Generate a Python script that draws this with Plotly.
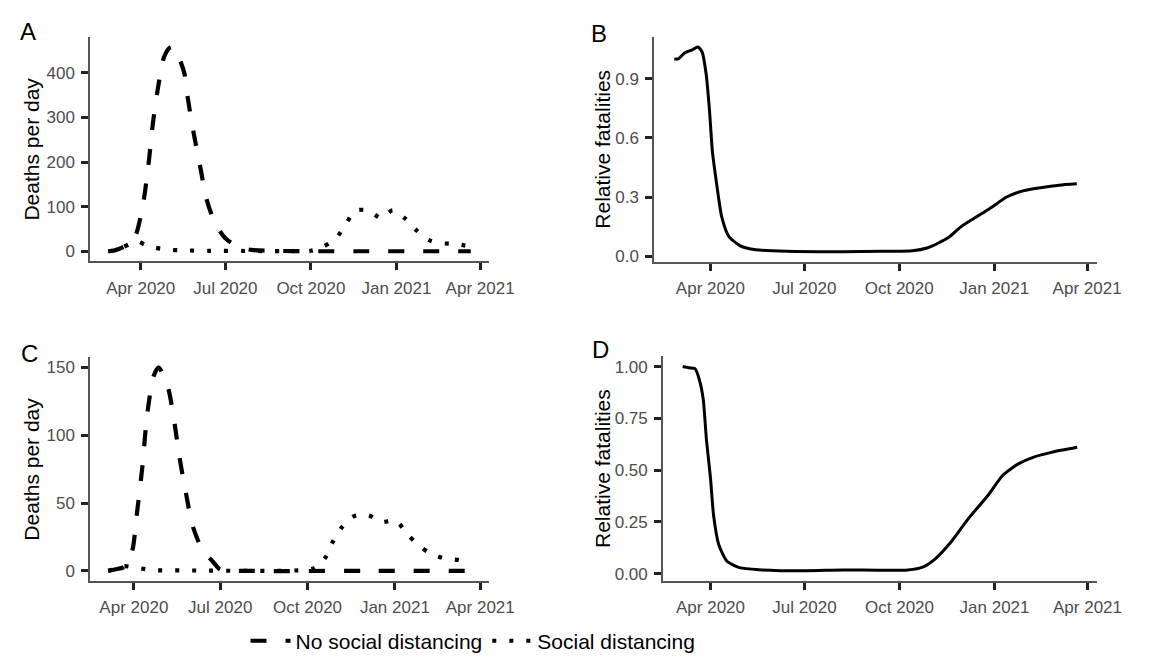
import plotly.graph_objects as go
import pandas as pd

# ---------------- data ----------------
tick_vals = ["2020-04-01", "2020-07-01", "2020-10-01", "2021-01-01", "2021-04-01"]
tick_text = ["Apr 2020", "Jul 2020", "Oct 2020", "Jan 2021", "Apr 2021"]

# Panel A: deaths per day
a_nosd_dates = ["2020-02-26", "2020-03-04", "2020-03-13", "2020-03-20", "2020-03-26", "2020-04-03",
                "2020-04-09", "2020-04-14", "2020-04-19", "2020-04-26", "2020-05-02", "2020-05-06",
                "2020-05-12", "2020-05-18", "2020-05-22", "2020-05-28", "2020-06-04", "2020-06-11",
                "2020-06-20", "2020-07-01", "2020-07-15", "2020-07-29", "2020-08-19", "2020-09-30",
                "2020-12-01", "2021-03-22"]
a_nosd_vals = [0, 2, 9, 18, 33, 100, 189, 286, 360, 435, 456, 458, 435, 398, 338, 264, 189, 115,
               63, 29, 10, 3, 1, 0, 0, 0]

a_sd_dates = ["2020-02-26", "2020-03-04", "2020-03-13", "2020-03-22", "2020-03-29", "2020-04-05",
              "2020-04-12", "2020-04-28", "2020-05-16", "2020-06-15", "2020-08-01", "2020-09-15",
              "2020-10-01", "2020-10-14", "2020-10-28", "2020-11-07", "2020-11-18", "2020-12-02",
              "2020-12-16", "2020-12-28", "2021-01-10", "2021-01-22", "2021-02-05", "2021-02-19",
              "2021-03-07", "2021-03-22"]
a_sd_vals = [0, 2, 9, 18, 22, 15, 10, 4, 2, 1, 0.5, 0.5, 1, 10, 29, 59, 91, 91, 74, 92, 74, 48,
             25, 18, 16, 10]

# Panel B: relative fatalities
b_dates = ["2020-02-26", "2020-03-01", "2020-03-07", "2020-03-14", "2020-03-20", "2020-03-24",
           "2020-03-28", "2020-03-31", "2020-04-03", "2020-04-07", "2020-04-12", "2020-04-19",
           "2020-04-30", "2020-05-15", "2020-06-14", "2020-08-08", "2020-09-14", "2020-10-14",
           "2020-10-28", "2020-11-08", "2020-11-19", "2020-11-30", "2020-12-15", "2020-12-30",
           "2021-01-13", "2021-01-28", "2021-02-15", "2021-03-05", "2021-03-22"]
b_vals = [1.00, 1.00, 1.03, 1.045, 1.06, 1.035, 0.92, 0.75, 0.53, 0.37, 0.20, 0.10, 0.053, 0.033,
          0.025, 0.023, 0.025, 0.028, 0.042, 0.067, 0.10, 0.15, 0.20, 0.25, 0.30, 0.33, 0.347,
          0.36, 0.367]

# Panel C: deaths per day
c_nosd_dates = ["2020-03-05", "2020-03-12", "2020-03-22", "2020-03-30", "2020-04-04", "2020-04-10",
                "2020-04-15", "2020-04-22", "2020-04-27", "2020-05-07", "2020-05-14", "2020-05-19",
                "2020-05-26", "2020-06-02", "2020-06-12", "2020-06-23", "2020-07-01", "2020-08-01",
                "2020-12-01", "2021-03-22"]
c_nosd_vals = [0, 1, 3, 14, 41, 77, 115, 144, 150, 135, 108, 84, 57, 33, 16, 7, 1, 0, 0, 0]

c_sd_dates = ["2020-03-05", "2020-03-15", "2020-03-22", "2020-04-01", "2020-04-06", "2020-04-23",
              "2020-05-20", "2020-09-25", "2020-10-08", "2020-10-20", "2020-10-28", "2020-11-06",
              "2020-11-18", "2020-12-04", "2020-12-17", "2021-01-02", "2021-01-14", "2021-01-26",
              "2021-02-07", "2021-02-23", "2021-03-10", "2021-03-22"]
c_sd_vals = [0, 2, 3.5, 2.5, 2, 0.5, 0.3, 0.5, 2, 10, 22, 32, 40, 41, 36, 37, 27, 19, 13, 9, 8, 6]

# Panel D: relative fatalities
d_dates = ["2020-03-05", "2020-03-11", "2020-03-17", "2020-03-21", "2020-03-25", "2020-03-28",
           "2020-04-01", "2020-04-04", "2020-04-09", "2020-04-17", "2020-04-29", "2020-05-18",
           "2020-07-01", "2020-08-07", "2020-10-09", "2020-10-24", "2020-11-04", "2020-11-19",
           "2020-12-07", "2020-12-26", "2021-01-09", "2021-01-24", "2021-02-08", "2021-02-26",
           "2021-03-22"]
d_vals = [1.00, 0.994, 0.99, 0.94, 0.84, 0.65, 0.46, 0.28, 0.14, 0.06, 0.029, 0.019, 0.014, 0.018,
          0.018, 0.033, 0.069, 0.148, 0.268, 0.38, 0.475, 0.53, 0.563, 0.587, 0.61]

# ---------------- helpers ----------------
W, H = 1154, 657


def xr(dates):
    d = pd.to_datetime(dates)
    lo, hi = d.min(), d.max()
    pad = (hi - lo) * 0.05
    return [(lo - pad).strftime("%Y-%m-%d %H:%M"), (hi + pad).strftime("%Y-%m-%d %H:%M")]


def yr(*vals):
    allv = [v for vs in vals for v in vs]
    lo, hi = min(allv), max(allv)
    pad = (hi - lo) * 0.05
    return [lo - pad, hi + pad]


FONT = "Arial, Liberation Sans, sans-serif"
DASH = "16px,19px"
DOT = "4px,13px"

fig = go.Figure()
fig.add_trace(go.Scatter(x=a_nosd_dates, y=a_nosd_vals, mode="lines", name="No social distancing",
                         line=dict(color="black", width=4.2, dash=DASH, shape="spline", smoothing=0.8),
                         xaxis="x", yaxis="y", showlegend=True, legendrank=1))
fig.add_trace(go.Scatter(x=a_sd_dates, y=a_sd_vals, mode="lines", name="Social distancing",
                         line=dict(color="black", width=4.2, dash=DOT, shape="spline", smoothing=0.8),
                         xaxis="x", yaxis="y", showlegend=True, legendrank=2))
fig.add_trace(go.Scatter(x=b_dates, y=b_vals, mode="lines",
                         line=dict(color="black", width=3, shape="spline", smoothing=0.6),
                         xaxis="x2", yaxis="y2", showlegend=False))
fig.add_trace(go.Scatter(x=c_nosd_dates, y=c_nosd_vals, mode="lines",
                         line=dict(color="black", width=4.2, dash=DASH, shape="spline", smoothing=0.8),
                         xaxis="x3", yaxis="y3", showlegend=False))
fig.add_trace(go.Scatter(x=c_sd_dates, y=c_sd_vals, mode="lines",
                         line=dict(color="black", width=4.2, dash=DOT, shape="spline", smoothing=0.8),
                         xaxis="x3", yaxis="y3", showlegend=False))
fig.add_trace(go.Scatter(x=d_dates, y=d_vals, mode="lines",
                         line=dict(color="black", width=3, shape="spline", smoothing=0.6),
                         xaxis="x4", yaxis="y4", showlegend=False))


def px_dom(a, b):
    return [a / W, b / W]


def py_dom(top, bottom):
    return [1 - bottom / H, 1 - top / H]


axis_common = dict(showline=True, linecolor="#555555", linewidth=1.5, ticks="outside", ticklen=7,
                   tickwidth=2.5, tickcolor="#222222", showgrid=False, zeroline=False,
                   ticklabelstandoff=3,
                   tickfont=dict(family=FONT, size=17, color="#4D4D4D"), fixedrange=True)

xa = dict(axis_common, type="date", tickmode="array", tickvals=tick_vals, ticktext=tick_text)

fig.update_layout(
    width=W, height=H, margin=dict(l=0, r=0, t=0, b=0),
    paper_bgcolor="white", plot_bgcolor="white",
    xaxis=dict(xa, domain=px_dom(84, 492), range=xr(a_nosd_dates), anchor="y"),
    yaxis=dict(axis_common, domain=py_dom(29, 255), range=yr(a_nosd_vals, a_sd_vals),
               tickvals=[0, 100, 200, 300, 400], anchor="x"),
    xaxis2=dict(xa, domain=px_dom(661, 1114), range=xr(b_dates), anchor="y2"),
    yaxis2=dict(axis_common, domain=py_dom(29, 255.5), range=yr(b_vals),
                tickvals=[0, 0.3, 0.6, 0.9], ticktext=["0.0", "0.3", "0.6", "0.9"], anchor="x2"),
    xaxis3=dict(xa, domain=px_dom(84, 492), range=xr(c_nosd_dates), anchor="y3"),
    yaxis3=dict(axis_common, domain=py_dom(351.5, 576.5), range=yr(c_nosd_vals, c_sd_vals),
                tickvals=[0, 50, 100, 150], anchor="x3"),
    xaxis4=dict(xa, domain=px_dom(670, 1114), range=xr(d_dates), anchor="y4"),
    yaxis4=dict(axis_common, domain=py_dom(350.5, 576.5), range=yr(d_vals),
                tickvals=[0, 0.25, 0.5, 0.75, 1.0], ticktext=["0.00", "0.25", "0.50", "0.75", "1.00"],
                anchor="x4"),
    legend=dict(orientation="h", x=243 / W, xanchor="left", y=1 - 637 / H, yanchor="middle",
                font=dict(family=FONT, size=21, color="black"), bgcolor="rgba(0,0,0,0)",
                itemwidth=40, tracegroupgap=0),
    showlegend=True,
)

annotations = []
for letter, x, y in [("A", 10, 8), ("B", 594, 10), ("C", 11, 332), ("D", 595, 328)]:
    annotations.append(dict(text=letter, x=x / W, y=1 - y / H, xref="paper", yref="paper",
                            xanchor="left", yanchor="top", showarrow=False,
                            font=dict(family=FONT, size=24, color="black")))
for title, x, top, bottom in [("Deaths per day", 24, 29, 255), ("Relative fatalities", 608, 29, 255.5),
                              ("Deaths per day", 24, 351.5, 576.5), ("Relative fatalities", 608, 350.5, 576.5)]:
    annotations.append(dict(text=title, x=x / W, y=1 - (top + bottom) / 2 / H, xref="paper", yref="paper",
                            xanchor="center", yanchor="middle", textangle=-90, showarrow=False,
                            font=dict(family=FONT, size=21, color="black")))
fig.update_layout(annotations=annotations)

fig.write_html("out.html")
